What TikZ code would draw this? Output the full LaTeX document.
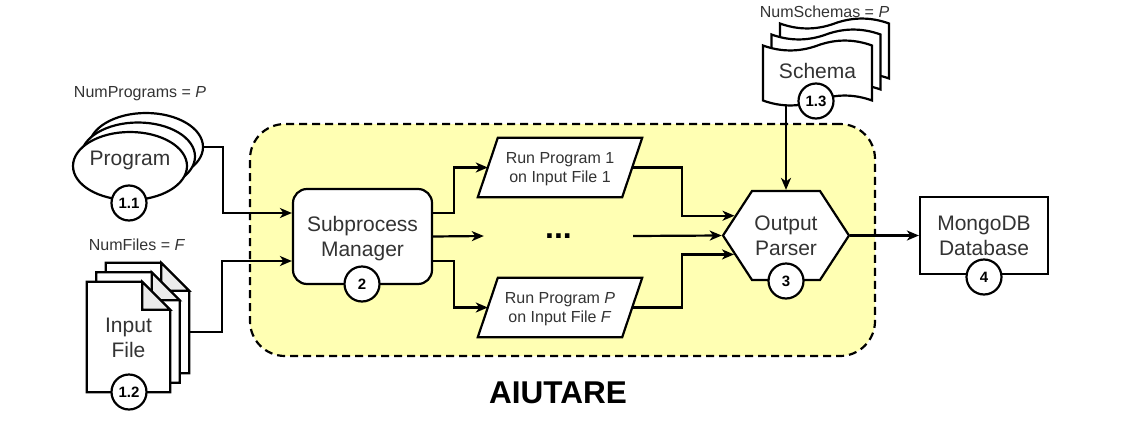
\documentclass[tikz,border=0pt]{standalone}
\usepackage{fontspec}
\setmainfont{Liberation Sans}
\usetikzlibrary{arrows.meta,calc,shapes.symbols,shapes.geometric}
\pgfdeclarelayer{back}
\pgfdeclarelayer{bg}
\pgfsetlayers{back,bg,main}
\definecolor{txt}{HTML}{333333}
\definecolor{boxfill}{HTML}{FFFFB3}
\definecolor{foldgray}{HTML}{EBEBEB}
\tikzset{
 ln/.style={line width=2.2pt, draw=black},
 arr/.style={line width=2.2pt, -{Stealth[length=12pt,width=10pt,inset=3.5pt]}},
 big/.style={font=\fontsize{21}{25}\selectfont, text=txt, align=center, inner sep=0pt},
 two/.style={text height=40pt, text depth=0pt},
 small/.style={font=\fontsize{16}{19}\selectfont, text=txt, align=center, inner sep=0pt, text height=30.5pt, text depth=0pt},
 badge/.style={circle, ln, fill=white, minimum size=35pt, inner sep=0pt, font=\bfseries\fontsize{15}{18}\selectfont, text height=10.7pt, text depth=0pt},
 note/.style={font=\fontsize{16}{19}\selectfont, text=txt, inner sep=0pt, anchor=base},
 docbox/.style={minimum width=83pt, minimum height=110pt, inner sep=0pt},
 progell/.style={ellipse, ln, fill=white, minimum width=114pt, minimum height=68pt, inner sep=0pt},
}
\newcommand\docshape[1]{%
  \draw[ln, fill=white] (#1.north west) -- ($(#1.north east)+(-28,0)$) -- ($(#1.north east)+(0,28)$) -- (#1.south east) -- (#1.south west) -- cycle;
  \draw[ln, fill=foldgray] ($(#1.north east)+(-28,0)$) -- ($(#1.north east)+(-28,28)$) -- ($(#1.north east)+(0,28)$) -- cycle;}
\newcommand\paragram[1]{%
  \draw[ln, fill=white] ($(#1.south west)+(-10,0)$) -- ($(#1.north west)+(10,0)$) -- ($(#1.north east)+(10,0)$) -- ($(#1.south east)+(-10,0)$) -- cycle;}
\begin{document}
\begin{tikzpicture}[x=1pt,y=-1pt]
\useasboundingbox (0,0) rectangle (1131,447);

% container
\begin{pgfonlayer}{back}
\node[draw, line width=2.2pt, dash pattern=on 8pt off 5pt, fill=boxfill, rounded corners=35pt, minimum width=625pt, minimum height=232pt, inner sep=0pt] (container) at (562.5,240) {};
\end{pgfonlayer}
\node[font=\bfseries\fontsize{31.5}{36}\selectfont, anchor=base, inner sep=0pt] (title) at (558,403) {AIUTARE};

% programs
\node[progell] (prog3) at (146,147) {};
\node[progell] (prog2) at (138,156.5) {};
\node[progell, big, text height=15pt, text depth=17pt] (prog) at (130,166) {Program};
\node[note] (nprog) at (140,97) {NumPrograms = \textit{P}};

% input files
\node[docbox] (filerear) at (147.5,318) {};
\node[docbox] (filemid) at (138,327.5) {};
\node[docbox, big, two] (file) at (128.5,337) {Input\\File};
\begin{pgfonlayer}{bg}
\docshape{filerear}
\docshape{filemid}
\docshape{file}
\end{pgfonlayer}
\node[note] (nfiles) at (137,250) {NumFiles = \textit{F}};

% subprocess manager
\node[rectangle, rounded corners=14pt, ln, fill=white, minimum width=139pt, minimum height=95pt, big, two] (sm) at (362.5,236.5) {Subprocess\\Manager};

% runs
\node[minimum width=144pt, minimum height=59pt, small] (rp1) at (560,167.5) {Run Program 1\\on Input File 1};
\node[minimum width=144pt, minimum height=59pt, small] (rpp) at (560,307.5) {Run Program \textit{P}\\on Input File \textit{F}};
\begin{pgfonlayer}{bg}
\paragram{rp1}
\paragram{rpp}
\end{pgfonlayer}
\node[minimum width=149pt, inner sep=0pt, font=\bfseries\fontsize{32}{36}\selectfont, text height=4.7pt, text depth=0pt] (dots) at (558.5,236) {...};

% parser
\node[signal, signal to=east and west, signal pointer angle=113.8, ln, fill=white, minimum width=126pt, minimum height=89pt, big, two] (parser) at (786,235.5) {Output\\Parser};

% mongo
\node[rectangle, ln, fill=white, minimum width=128pt, minimum height=77pt, big, two] (mongo) at (984,235.5) {MongoDB\\Database};

% schema
\foreach \dx/\dy in {17/-22, 8.5/-11, 0/0} {
  \begin{scope}[shift={(763+\dx,40+\dy)}]
  \draw[ln, fill=white] (0,5.5) .. controls (18.17,12.1) and (36.33,12.1) .. (54.5,5.5) .. controls (72.67,-1.1) and (90.83,-1.1) .. (109,5.5) -- (109,60.5) .. controls (90.83,53.9) and (72.67,53.9) .. (54.5,60.5) .. controls (36.33,67.1) and (18.17,67.1) .. (0,60.5) -- cycle;
  \end{scope}
}
\node[minimum width=109pt, minimum height=66pt, big, text height=15pt, text depth=5pt] (schema) at (817.5,73) {Schema};
\node[note] (nschema) at (824.5,17) {NumSchemas = \textit{P}};

% connectors
\draw[arr] (prog3.east) -- ++(19,0) |- ($(sm.west)+(0,-23.5)$);
\draw[arr] ($(filerear.east)+(0,14)$) -- ++(33,0) |- ($(sm.west)+(0,24.5)$);
\draw[arr] ($(sm.east)+(0,-23.5)$) -- ++(21,0) |- (rp1.west);
\draw[arr] (sm.east) -- (dots.west);
\draw[arr] ($(sm.east)+(0,24.5)$) -- ++(21,0) |- (rpp.west);
\draw[arr] (rp1.east) -- ++(50,0) |- (parser.159.6);
\draw[arr] (rpp.east) -- ++(50,0) |- (parser.200.4);
\draw[arr] (dots.east) -- (parser.west);
\draw[arr] (parser.north |- schema.south) -- (parser.north);
\draw[arr] (parser.east) -- (mongo.west);

% badges
\node[badge] (b11) at (129,203) {1.1};
\node[badge] (b12) at (129,392) {1.2};
\node[badge] (b13) at (816,101) {1.3};
\node[badge] (b2) at (362,284) {2};
\node[badge] (b3) at (786,281) {3};
\node[badge] (b4) at (984,277) {4};
\end{tikzpicture}
\end{document}
